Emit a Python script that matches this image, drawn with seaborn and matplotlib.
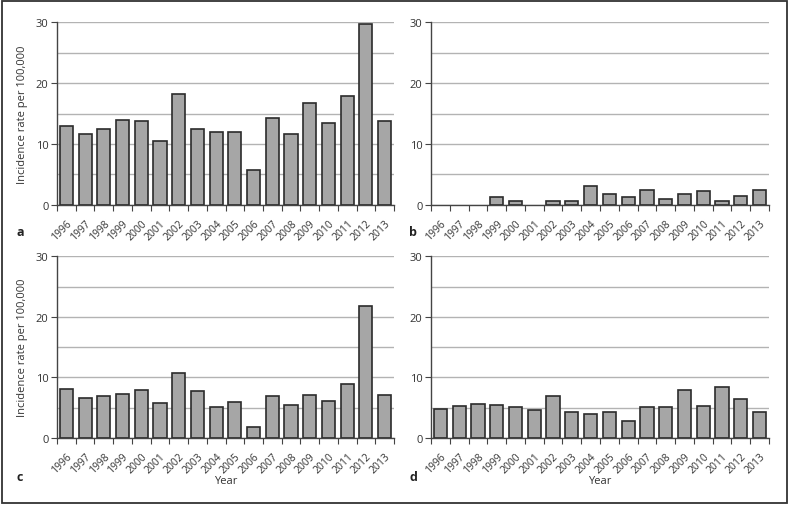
import matplotlib
matplotlib.use("Agg")
import matplotlib.pyplot as plt
import seaborn as sns
import pandas as pd
import numpy as np
from matplotlib.patches import Rectangle
from matplotlib.ticker import MultipleLocator, FixedLocator

years = [str(y) for y in range(1996, 2014)]
rate_a = [12.9, 11.7, 12.5, 14.0, 13.7, 10.4, 18.2, 12.5, 12.0, 11.9, 5.7, 14.3,
          11.6, 16.7, 13.5, 17.8, 29.7, 13.7]
rate_b = [0, 0, 0, 1.3, 0.6, 0, 0.6, 0.6, 3.0, 1.8, 1.2, 2.4, 0.9, 1.8, 2.25, 0.6,
          1.5, 2.4]
rate_c = [8.1, 6.55, 6.9, 7.2, 8.0, 5.7, 10.7, 7.8, 5.2, 5.9, 1.8, 6.9, 5.5, 7.1,
          6.05, 8.85, 21.8, 7.05]
rate_d = [4.85, 5.3, 5.6, 5.5, 5.2, 4.6, 6.9, 4.35, 3.9, 4.25, 2.75, 5.2, 5.2, 7.9,
          5.3, 8.5, 6.4, 4.3]
panel_letters = ["a", "b", "c", "d"]
ylabel_text = "Incidence rate per 100,000"
xlabel_text = "Year"

sns.set_theme(style="white")
plt.rcParams['font.family'] = ['Open Sans', 'DejaVu Sans']

W, H = 788, 506
fig = plt.figure(figsize=(W / 100, H / 100), dpi=100)

# outer frame
fig.patches.append(Rectangle((1.5 / W, 2.5 / H), (W - 3) / W, (H - 4.5) / H,
                             transform=fig.transFigure, fill=False,
                             edgecolor="#333333", linewidth=1.3))

def px_axes(left, top, right, bottom):
    return fig.add_axes([left / W, 1 - bottom / H, (right - left) / W, (bottom - top) / H])

boxes = [(57, 23.3, 394, 205.7), (431, 23.3, 769, 205.7),
         (57, 257.3, 394, 439), (431, 257.3, 769, 439)]
series = [rate_a, rate_b, rate_c, rate_d]
letter_pos = [(20, 232), (413, 232), (20, 478), (413, 478)]

for i, (box, vals) in enumerate(zip(boxes, series)):
    ax = px_axes(*box)
    df = pd.DataFrame({"year": years, "rate": vals})
    sns.barplot(data=df, x="year", y="rate", ax=ax, color="#a6a6a6",
                edgecolor="#2b2b2b", linewidth=1.2, width=0.7, saturation=1)
    for p in ax.patches:
        if p.get_height() == 0:
            p.set_linewidth(0)
    ax.set_xlim(-0.5, len(years) - 0.5)
    ax.set_ylim(0, 30)
    ax.yaxis.set_major_locator(MultipleLocator(10))
    ax.yaxis.set_minor_locator(MultipleLocator(5))
    ax.grid(axis="y", which="both", color="#b3b3b3", linewidth=1.0)
    ax.set_axisbelow(True)
    for s in ["top", "right"]:
        ax.spines[s].set_visible(False)
    for s in ["left", "bottom"]:
        ax.spines[s].set_color("#444444")
        ax.spines[s].set_linewidth(1.0)
    ax.tick_params(axis="y", which="major", left=True, length=4, width=0.8,
                   color="#444444", labelsize=8, labelcolor="#333333", pad=2)
    ax.tick_params(axis="y", which="minor", left=False)
    ax.tick_params(axis="x", which="major", bottom=False, labelsize=7.5,
                   labelcolor="#333333", pad=3)
    ax.xaxis.set_minor_locator(FixedLocator(np.arange(-0.5, len(years), 1.0)))
    ax.tick_params(axis="x", which="minor", bottom=True, length=4, width=0.8,
                   color="#444444")
    for lab in ax.get_xticklabels():
        lab.set_rotation(45)
        lab.set_ha("right")
        lab.set_rotation_mode("anchor")
    ax.set_xlabel("")
    ax.set_ylabel("")
    if i % 2 == 0:
        ax.set_ylabel(ylabel_text, fontsize=8, color="#333333", labelpad=6)
    if i >= 2:
        ax.set_xlabel(xlabel_text, fontsize=8, color="#333333", labelpad=0)
    lx, ly = letter_pos[i]
    fig.text(lx / W, 1 - ly / H, panel_letters[i], fontsize=9, fontweight="bold",
             color="#222222", ha="center", va="center")

fig.savefig("out.png", dpi=100)
